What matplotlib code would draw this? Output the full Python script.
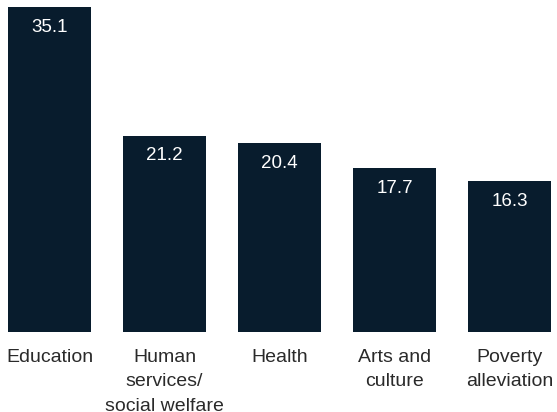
import matplotlib
matplotlib.use("Agg")
from matplotlib import pyplot as plt
import numpy as np

categories = ["Education", "Human\nservices/\nsocial welfare", "Health",
              "Arts and\nculture", "Poverty\nalleviation"]
values = [35.1, 21.2, 20.4, 17.7, 16.3]

bar_color = "#081c2d"
plt.rcParams['font.family'] = ['Liberation Sans', 'DejaVu Sans']

fig = plt.figure(figsize=(5.57, 4.12), dpi=100)
ax = fig.add_axes([8 / 557, 80 / 412, 543 / 557, 325 / 412])

index = np.arange(len(values))
bar_width = 83 / 115
ax.bar(index, values, bar_width, color=bar_color)

for i, v in enumerate(values):
    ax.annotate(f"{v:.1f}", (i, v), xytext=(0, -20), textcoords="offset pixels",
                ha="center", va="center", color="white", fontsize=13.5)

ax.set_xlim(-bar_width / 2, len(values) - 1 + bar_width / 2)
ax.set_ylim(0, max(values))
ax.set_xticks(index)
ax.set_xticklabels(categories, fontsize=14, color="#2a2a2a", linespacing=1.6, va="top")
ax.tick_params(axis="x", length=0, pad=12)
ax.set_yticks([])
for s in ax.spines.values():
    s.set_visible(False)

plt.savefig("out.png", dpi=100)
